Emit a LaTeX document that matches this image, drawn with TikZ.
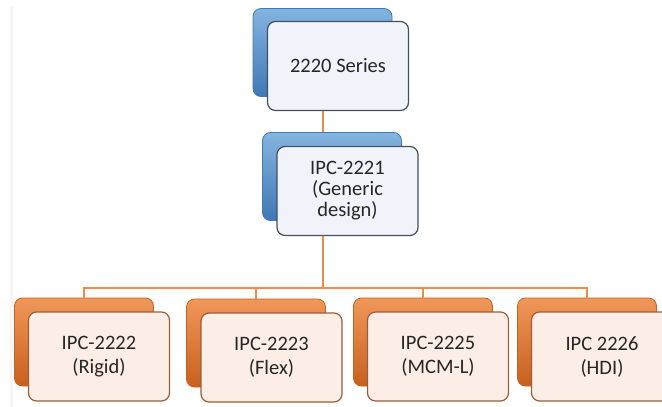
\documentclass[tikz,border=0pt]{standalone}
\usepackage{fontspec}
\setmainfont{Carlito}
\usepackage{xcolor}
\usepackage{tikz}
\usetikzlibrary{positioning}
\definecolor{ink}{HTML}{262626}
\definecolor{wire}{HTML}{F08A4B}
\definecolor{blue}{HTML}{5B9BD5}
\definecolor{deepblue}{HTML}{3F78B5}
\definecolor{paleblue}{HTML}{F0F4FA}
\definecolor{slate}{HTML}{44505C}
\definecolor{orange}{HTML}{ED7D31}
\definecolor{deeporange}{HTML}{C8601E}
\definecolor{palecoral}{HTML}{FCEEE6}
\definecolor{brown}{HTML}{9A5E3A}
\tikzset{bluebase/.style={rounded corners=8pt,top color=blue!75,bottom color=deepblue,draw=deepblue,line width=.8pt,minimum width=139pt,minimum height=88pt},bluecard/.style={rounded corners=8pt,fill=paleblue,draw=slate,line width=1.2pt,minimum width=141pt,minimum height=89pt,align=center,text=ink,font=\fontsize{20.5}{21}\selectfont},orangebase/.style={rounded corners=8pt,top color=orange!80,bottom color=deeporange,draw=deeporange,line width=.8pt,minimum width=139pt,minimum height=88pt},orangecard/.style={rounded corners=8pt,fill=palecoral,draw=brown,line width=1.2pt,minimum width=141pt,minimum height=89pt,align=center,text=ink,font=\fontsize{20.5}{24}\selectfont},link/.style={draw=wire,line width=1.1pt}}

\begin{document}
\begin{tikzpicture}[x=1pt,y=-1pt]
\useasboundingbox[fill=white] (0,0) rectangle (662,407);
\fill[gray!7] (10,7) rectangle (13,407);
\node[bluebase] (tb) at (322.5,52.5) {};
\node[bluecard,xshift=15.5pt,yshift=-13.5pt] (top) at (tb) {2220 Series};
\node[bluebase] (gb) at (332,176.5) {};
\node[bluecard,xshift=15.5pt,yshift=-14.5pt] (gen) at (gb) {IPC-2221\\(Generic\\design)};
\node[orangebase] (rb) at (84,342) {};
\node[orangecard,xshift=15pt,yshift=-14.5pt] (rigid) at (rb) {IPC-2222\\(Rigid)};
\node[orangebase] (fb) at (256,343) {};
\node[orangecard,xshift=15.5pt,yshift=-14.5pt] (flex) at (fb) {IPC-2223\\(Flex)};
\node[orangebase] (mb) at (423,342) {};
\node[orangecard,xshift=15pt,yshift=-14.5pt] (mcm) at (mb) {IPC-2225\\(MCM-L)};
\node[orangebase] (hb) at (587,342) {};
\node[orangecard,xshift=15pt,yshift=-14.5pt] (hdi) at (hb) {IPC 2226\\(HDI)};
\coordinate (bus) at (323,288);
\draw[link] (bus |- top.south)--(bus |- gb.north);
\draw[link] (bus |- gen.south)--(bus);
\draw[link] (rb.north)--(rb.north |- bus)--(hb.north |- bus)--(hb.north);
\draw[link] (fb.north)--(fb.north |- bus);
\draw[link] (mb.north)--(mb.north |- bus);
\end{tikzpicture}
\end{document}
